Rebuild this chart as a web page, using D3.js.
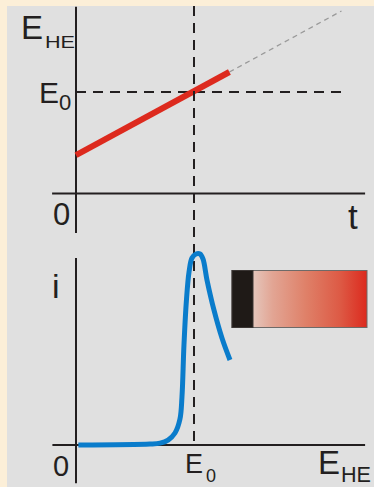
<!DOCTYPE html>
<html><head><meta charset="utf-8">
<script src="https://cdn.jsdelivr.net/npm/d3@7"></script>
<style>html,body{margin:0;padding:0;background:#fcefd8;}svg{display:block;}</style>
</head><body>
<svg id="c" width="374" height="487"></svg>
<script>
// ---- data ----
// top panel: electrode potential E_HE vs time t (E in units of E0)
const redT = [0, 5.2];
const redE = [0.379, 1.197];
const extT = [5.2, 9.0];
const extE = [1.197, 1.798];
const tCross = [4];            // time where E reaches E0
const e0Level = [1];           // E0
// bottom panel: current i vs potential E_HE (E in units of E0, i normalised)
const curveE = [0.02, 0.627, 0.712, 0.78, 0.839, 0.881, 0.898, 0.915, 0.936, 0.958, 0.983, 1.017, 1.051, 1.076, 1.11, 1.169, 1.237, 1.305];
const curveI = [0, 0.005, 0.01, 0.026, 0.063, 0.136, 0.251, 0.524, 0.759, 0.906, 0.979, 1.0, 1.0, 0.974, 0.864, 0.707, 0.56, 0.445];
const gradStops = [[0, "#e8e4e2"], [0.12, "#e6cfc6"], [0.3, "#e2a594"], [0.55, "#df8068"], [0.8, "#dd5a45"], [1, "#dc2a1e"]];

const svg = d3.select("#c");
const font = "'Liberation Sans', Arial, sans-serif";
const axisCol = "#231f20";

svg.append("rect").attr("width", 374).attr("height", 487).attr("fill", "#fcefd8");
svg.append("rect").attr("x", 7).attr("y", 6).attr("width", 367).attr("height", 481).attr("fill", "#e0e0e0");

// scales
const xT = d3.scaleLinear().domain([0, 10]).range([76, 371]);
const yT = d3.scaleLinear().domain([0, 1]).range([193.5, 92]);
const xB = d3.scaleLinear().domain([0, 1]).range([76, 194]);
const yB = d3.scaleLinear().domain([0, 1]).range([445, 254]);

// ---------- top panel ----------
const g1 = svg.append("g");
g1.append("line").attr("x1", xT(0)).attr("x2", xT(0)).attr("y1", yT(1.84)).attr("y2", yT(-0.39))
  .attr("stroke", axisCol).attr("stroke-width", 2);
g1.append("line").attr("x1", xT(-0.81)).attr("x2", xT(9.8)).attr("y1", yT(0)).attr("y2", yT(0))
  .attr("stroke", axisCol).attr("stroke-width", 2);
g1.selectAll(".h").data(e0Level).join("line")
  .attr("x1", xT(0)).attr("x2", xT(9.1)).attr("y1", d => yT(d)).attr("y2", d => yT(d))
  .attr("stroke", axisCol).attr("stroke-width", 2).attr("stroke-dasharray", "10,7");
g1.append("line").attr("x1", xT(extT[0])).attr("y1", yT(extE[0])).attr("x2", xT(extT[1])).attr("y2", yT(extE[1]))
  .attr("stroke", "#9a9a9a").attr("stroke-width", 1.3).attr("stroke-dasharray", "5,4");
g1.append("line").attr("x1", xT(redT[0])).attr("y1", yT(redE[0])).attr("x2", xT(redT[1])).attr("y2", yT(redE[1]))
  .attr("stroke", "#dd2a1e").attr("stroke-width", 6);

// vertical dashed line through both panels
svg.selectAll(".v").data(tCross).join("line")
  .attr("x1", d => xT(d)).attr("x2", d => xT(d)).attr("y1", 6).attr("y2", yB(0))
  .attr("stroke", axisCol).attr("stroke-width", 2).attr("stroke-dasharray", "10,7");

// top labels
g1.append("text").attr("x", 21).attr("y", 39).attr("font-family", font).attr("fill", axisCol)
  .attr("font-size", 33).text("E");
g1.append("text").attr("x", 45).attr("y", 48).attr("font-family", font).attr("fill", axisCol)
  .attr("font-size", 16).attr("textLength", 30).attr("lengthAdjust", "spacingAndGlyphs").text("HE");
g1.append("text").attr("x", 39).attr("y", yT(1) + 11).attr("font-family", font).attr("fill", axisCol)
  .attr("font-size", 30).text("E");
g1.append("text").attr("x", 59).attr("y", yT(1) + 18).attr("font-family", font).attr("fill", axisCol)
  .attr("font-size", 22).text("0");
g1.append("text").attr("x", 53).attr("y", 225).attr("font-family", font).attr("fill", axisCol)
  .attr("font-size", 31).text("0");
g1.append("text").attr("x", 348).attr("y", 229).attr("font-family", font).attr("fill", axisCol)
  .attr("font-size", 35).text("t");

// ---------- bottom panel ----------
const g2 = svg.append("g");
g2.append("line").attr("x1", xB(0)).attr("x2", xB(0)).attr("y1", yB(0.979)).attr("y2", yB(-0.2))
  .attr("stroke", axisCol).attr("stroke-width", 2);
g2.append("line").attr("x1", xB(-0.2)).attr("x2", xB(2.45)).attr("y1", yB(0)).attr("y2", yB(0))
  .attr("stroke", axisCol).attr("stroke-width", 2);

const pts = curveE.map((e, k) => [e, curveI[k]]);
const line = d3.line().x(d => xB(d[0])).y(d => yB(d[1])).curve(d3.curveCatmullRom.alpha(0.5));
g2.append("path").attr("d", line(pts)).attr("fill", "none")
  .attr("stroke", "#0a7ccb").attr("stroke-width", 5).attr("stroke-linejoin", "round");

// colour bar
const defs = svg.append("defs");
const lg = defs.append("linearGradient").attr("id", "grad").attr("x1", "0%").attr("x2", "100%");
lg.selectAll("stop").data(gradStops).join("stop").attr("offset", d => d[0]).attr("stop-color", d => d[1]);
g2.append("rect").attr("x", 232).attr("y", 270.5).attr("width", 135).attr("height", 57)
  .attr("fill", "url(#grad)").attr("stroke", "#6e6a68").attr("stroke-width", 1);
g2.append("rect").attr("x", 232).attr("y", 270.5).attr("width", 21).attr("height", 57)
  .attr("fill", "#1f1a17").attr("stroke", "#3a3533").attr("stroke-width", 1);

// bottom labels
g2.append("text").attr("x", 52).attr("y", 298).attr("font-family", font).attr("fill", axisCol)
  .attr("font-size", 34).text("i");
g2.append("text").attr("x", 53).attr("y", 476).attr("font-family", font).attr("fill", axisCol)
  .attr("font-size", 29).text("0");
g2.append("text").attr("x", xB(1) - 9).attr("y", 473).attr("font-family", font).attr("fill", axisCol)
  .attr("font-size", 27).text("E");
g2.append("text").attr("x", xB(1) + 12).attr("y", 482).attr("font-family", font).attr("fill", axisCol)
  .attr("font-size", 18).text("0");
g2.append("text").attr("x", 318).attr("y", 474).attr("font-family", font).attr("fill", axisCol)
  .attr("font-size", 33).text("E");
g2.append("text").attr("x", 341).attr("y", 482).attr("font-family", font).attr("fill", axisCol)
  .attr("font-size", 22).attr("textLength", 30).attr("lengthAdjust", "spacingAndGlyphs").text("HE");
</script>
</body></html>
